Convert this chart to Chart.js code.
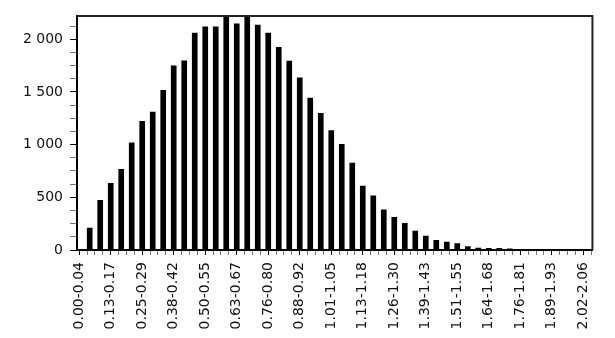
<!DOCTYPE html>
<html>
<head>
<meta charset="utf-8">
<script src="https://cdn.jsdelivr.net/npm/chart.js@4"></script>
<style>
  html, body { margin: 0; padding: 0; background: #fff; }
  #wrap { width: 615px; height: 338px; }
</style>
</head>
<body>
<div id="wrap"><canvas id="hist"></canvas></div>
<script>
// labelled bins (every third bin of 49)
const tickLabels = ['0.00-0.04', '0.13-0.17', '0.25-0.29', '0.38-0.42', '0.50-0.55', '0.63-0.67',
    '0.76-0.80', '0.88-0.92', '1.01-1.05', '1.13-1.18', '1.26-1.30', '1.39-1.43', '1.51-1.55',
    '1.64-1.68', '1.76-1.81', '1.89-1.93', '2.02-2.06'];
// counts per bin
const counts = [0, 210, 474, 635, 768, 1021, 1223, 1311, 1517, 1750, 1798, 2060, 2120, 2120, 2260,
    2149, 2280, 2136, 2060, 1927, 1796, 1637, 1444, 1299, 1137, 1005, 828, 610, 518, 385, 313, 256,
    183, 136, 95, 79, 63, 35, 22, 20, 18, 15, 4, 3, 2, 1, 1, 0, 1];
const yTicks = [0, 500, 1000, 1500, 2000];

function fmt(v) {
    if (v < 1000) return String(v);
    return Math.floor(v / 1000) + ' ' + String(v % 1000).padStart(3, '0');
}

// box around plot area (top and right edges)
const frame = {
    id: 'frame',
    afterDraw(chart) {
        const { ctx, chartArea: a } = chart;
        ctx.save();
        ctx.strokeStyle = '#222';
        ctx.lineWidth = 2;
        ctx.beginPath();
        ctx.moveTo(a.left, a.top);
        ctx.lineTo(a.right, a.top);
        ctx.lineTo(a.right, a.bottom);
        ctx.stroke();
        ctx.restore();
    }
};

const font = { family: 'DejaVu Sans', size: 14 };

new Chart(document.getElementById('hist'), {
    type: 'bar',
    data: {
        datasets: [{
            data: counts.map((c, i) => ({ x: i, y: c })),
            backgroundColor: '#000',
            borderWidth: 0,
            categoryPercentage: 1,
            barPercentage: 0.72
        }]
    },
    options: {
        responsive: true,
        maintainAspectRatio: false,
        animation: false,
        layout: { padding: { top: 16, right: 7, left: 0, bottom: 0 } },
        plugins: { legend: { display: false }, tooltip: { enabled: false } },
        scales: {
            x: {
                type: 'linear',
                min: -0.21,
                max: 48.87,
                offset: false,
                afterFit: s => { s.height = 88; },
                border: { color: '#000', width: 2 },
                grid: {
                    offset: false,
                    drawOnChartArea: false,
                    tickLength: 5,
                    tickColor: c => (c.tick && c.tick.value % 3 === 0) ? '#000' : '#777'
                },
                ticks: {
                    stepSize: 0.75,
                    includeBounds: false,
                    autoSkip: false,
                    minRotation: 90,
                    maxRotation: 90,
                    padding: 7,
                    color: '#111',
                    font: font,
                    callback: v => v % 3 === 0 ? tickLabels[v / 3] : ''
                }
            },
            y: {
                min: 0,
                max: 2220,
                afterFit: s => { s.width = 77; },
                border: { color: '#000', width: 2 },
                grid: {
                    drawOnChartArea: false,
                    tickLength: 7,
                    tickColor: c => (c.tick && yTicks.includes(c.tick.value)) ? '#000' : '#777'
                },
                ticks: {
                    stepSize: 125,
                    includeBounds: false,
                    autoSkip: false,
                    padding: 7,
                    color: '#111',
                    font: font,
                    callback: v => yTicks.includes(v) ? fmt(v) : ''
                }
            }
        }
    },
    plugins: [frame]
});
</script>
</body>
</html>
